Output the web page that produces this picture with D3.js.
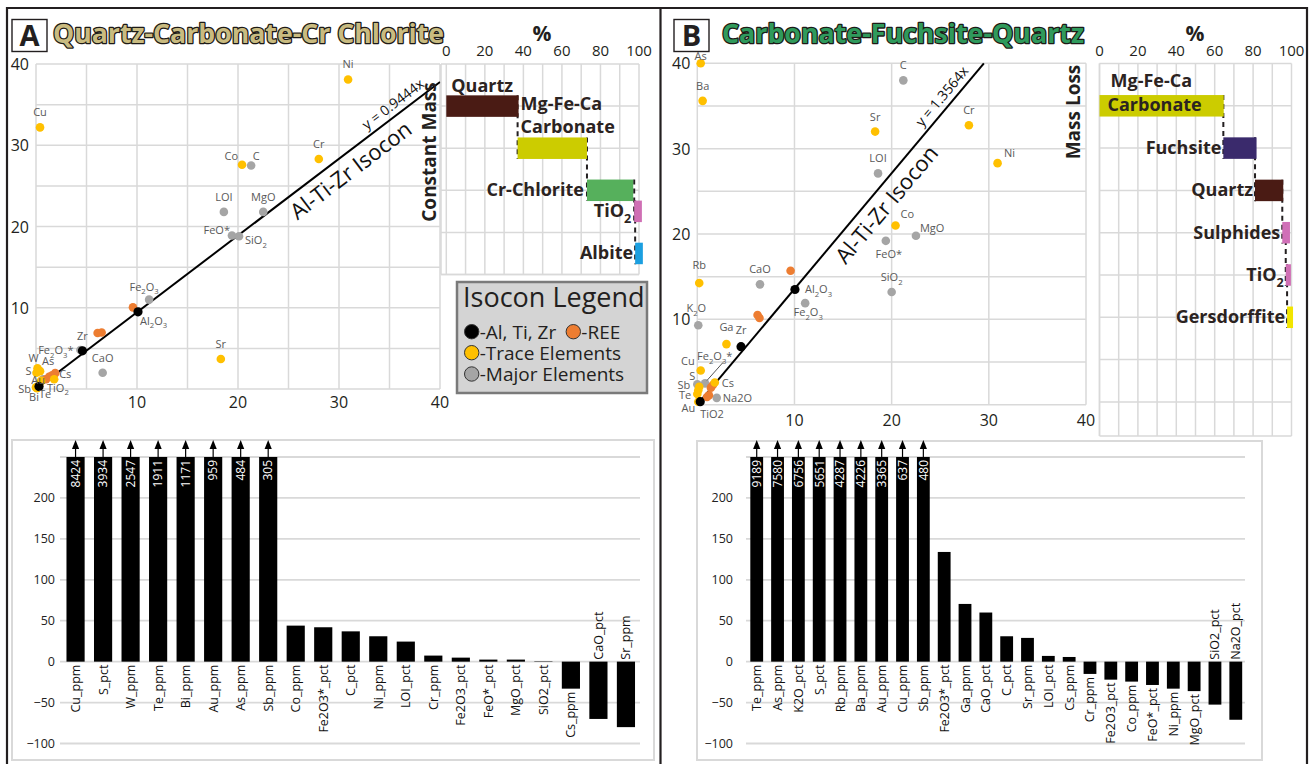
<!DOCTYPE html>
<html>
<head>
<meta charset="utf-8">
<script src="https://cdn.jsdelivr.net/npm/d3@7"></script>
<style>
body { margin: 0; background: #fff; }
text { font-family: "Open Sans", sans-serif; }
</style>
</head>
<body>
<script>
// ---------- data ----------
// isocon A : x = least altered, y = altered ("_" marks a subscript digit)
var isoLabelsA = ["Ni","Cu","Cr","Co","C","LOI","MgO","FeO*","SiO_2","Fe_2O_3","","Al_2O_3","","","Fe_2O_3*","Zr","CaO","Sr","W","As","S","Au","","","","","","Cs","Sb","Bi","Te","TiO_2"];
var isoXA = [30.9,0.4,28.0,20.4,21.3,18.6,22.5,19.4,20.1,11.2,9.6,10.1,6.1,6.5,4.4,4.6,6.6,18.3,0.15,0.4,0.05,0.5,0.7,1.0,1.3,1.6,1.9,1.8,0.0,0.1,0.3,0.3];
var isoYA = [38.1,32.2,28.3,27.6,27.5,21.8,21.8,18.9,18.8,11.0,10.05,9.5,6.9,6.95,4.8,4.7,2.0,3.7,2.55,2.2,2.0,1.0,1.2,1.2,1.5,1.7,1.95,1.2,0.2,0.1,0.4,0.3];
var isoTypeA = ["y","y","y","y","g","g","g","g","g","g","o","k","o","o","g","k","g","y","y","y","y","y","g","o","o","o","o","y","y","y","y","k"];
var slopeA = 0.9444;

// isocon B
var isoLabelsB = ["As","Ba","C","Sr","Cr","Ni","LOI","Co","MgO","FeO*","SiO_2","Rb","CaO","","Al_2O_3","Fe_2O_3","K_2O","","","Ga","Zr","Cu","Fe_2O_3*","Sb","S","","","","","Cs","Te","","Na2O","Au","TiO2"];
var isoXB = [0.35,0.55,21.2,18.3,27.95,30.9,18.6,20.4,22.5,19.4,20.0,0.2,6.45,9.6,10.05,11.1,0.1,6.2,6.4,3.0,4.5,0.35,0.8,0.0,0.2,1.4,1.6,1.2,1.0,1.8,0.0,0.1,2.0,0.1,0.3];
var isoYB = [40.0,35.6,38.0,32.0,32.75,28.3,27.1,21.0,19.8,19.2,13.2,14.25,14.1,15.7,13.5,11.9,9.3,10.5,10.15,7.1,6.8,4.0,2.5,2.4,2.1,2.0,2.3,1.1,0.9,2.6,1.25,1.7,0.8,0.35,0.35];
var isoTypeB = ["y","y","g","y","y","y","g","y","g","g","g","y","g","o","k","g","g","o","o","y","k","y","g","g","y","o","o","o","o","y","y","y","g","y","k"];
var slopeB = 1.3564;

// mass balance bars (percent, start / end)
var massNamesA = ["Quartz","Carbonate","Cr-Chlorite","TiO2","Albite"];
var massStartA = [0, 37, 73, 97.5, 98];
var massEndA = [37.5, 73, 97, 101.5, 102];
var massNamesB = ["Carbonate","Fuchsite","Quartz","Sulphides","TiO2","Gersdorffite"];
var massStartB = [0, 64.5, 81, 95.2, 97, 97.7];
var massEndB = [64.7, 81.8, 95.7, 99.2, 99.7, 100.8];
var massTicks = [0, 20, 40, 60, 80, 100];

// percent change bars
var chgCatA = ["Cu_ppm","S_pct","W_ppm","Te_ppm","Bi_ppm","Au_ppm","As_ppm","Sb_ppm","Co_ppm","Fe2O3*_pct","C_pct","Ni_ppm","LOI_pct","Cr_ppm","Fe2O3_pct","FeO*_pct","MgO_pct","SiO2_pct","Cs_ppm","CaO_pct","Sr_ppm"];
var chgValA = [8424,3934,2547,1911,1171,959,484,305,44,42,37,31,24.5,7.4,4.9,2.5,2.5,0.5,-33,-70,-80];
var chgCatB = ["Te_ppm","As_ppm","K2O_pct","S_pct","Rb_ppm","Ba_ppm","Au_ppm","Cu_ppm","Sb_ppm","Fe2O3*_pct","Ga_ppm","CaO_pct","C_pct","Sr_ppm","LOI_pct","Cs_ppm","Cr_ppm","Fe2O3_pct","Co_ppm","FeO*_pct","Ni_ppm","MgO_pct","SiO2_pct","Na2O_pct"];
var chgValB = [9189,7580,6756,5651,4287,4226,3365,637,480,134,70.5,60,31,29,7,5.7,-15,-22,-24.4,-28.5,-33,-36,-52.5,-71];
var chgTicks = [-100, -50, 0, 50, 100, 150, 200];

// ---------- styles ----------
var ptColor = { k: "#000000", o: "#ed7d31", y: "#ffc000", g: "#a5a5a5" };
var ptOrder = { g: 0, o: 1, y: 2, k: 3 };
var massColor = { "Quartz": "#4a1b14", "Carbonate": "#cccc00", "Cr-Chlorite": "#56b05c", "TiO2": "#cf6fb4",
                  "Albite": "#1b9fe0", "Fuchsite": "#3a2a6c", "Sulphides": "#d06fb7", "Gersdorffite": "#f2e500" };
var GRID = "#d9d9d9";
var INK = "#231f20";

// label offsets [dx, dy, anchor] for isocon points (default sits above)
var placeA = {
  "Co": [-4,-5,"end"], "C": [5,-6,"middle"], "FeO*": [-2,-1,"end"], "SiO_2": [6,8,"start"],
  "Fe_2O_3": [-5,-9,"middle"], "Al_2O_3": [2,13,"start"], "Fe_2O_3*": [-7,4,"end"],
  "W": [-4,-6,"middle"], "As": [8,-6,"middle"], "S": [-5,2,"end"], "Au": [-3,3,"middle"],
  "Cs": [5,-1,"start"], "TiO_2": [8,5,"start"], "Sb": [-5,6,"end"], "Bi": [-3,13,"middle"], "Te": [6,12,"middle"]
};
var placeB = {
  "As": [0,-3,"middle"], "Ni": [12,-6,"middle"], "Co": [5,-7,"start"], "MgO": [4,-4,"start"],
  "FeO*": [3,17,"middle"], "Rb": [0,-14,"middle"], "Al_2O_3": [10,4,"start"], "Fe_2O_3": [3,13,"middle"],
  "K_2O": [-2,-13,"middle"], "Ga": [0,-13,"middle"], "Zr": [0,-13,"middle"], "Cu": [-6,-6,"end"],
  "Fe_2O_3*": [-8,-23,"start"], "Sb": [-7,5,"end"], "S": [-4,-7,"end"], "Cs": [7,4,"start"],
  "Te": [-6,5,"end"], "Na2O": [6,4,"start"], "Au": [-3,10,"end"], "TiO2": [0,16,"start"]
};

var svg = d3.select("body").append("svg")
    .attr("width", 1310)
    .attr("height", 764);

//write text with "_" subscripts as tspans
function richText(sel, str, fs) {
    var parts = str.split(/_(\d)/), shift = 0;
    parts.forEach(function (p, i) {
        if (p === "") return;
        var sub = i % 2 === 1;
        var target = sub ? fs * 0.32 : 0;
        sel.append("tspan")
            .attr("dy", target - shift)
            .style("font-size", (sub ? fs * 0.7 : fs) + "px")
            .text(p);
        shift = target;
    });
}

//panel frames
svg.append("path")
    .attr("d", "M7,764 V8 H1307 V764 M660.5,8 V764")
    .attr("fill", "none")
    .attr("stroke", INK)
    .attr("stroke-width", 2.2);

//panel titles
function drawTitle(letter, title, bx, tx, tw, fill) {
    svg.append("rect").attr("x", bx).attr("y", 19.5).attr("width", 35).attr("height", 32)
        .attr("fill", "#fff").attr("stroke", INK).attr("stroke-width", 1.4);
    svg.append("text").attr("x", bx + 17.5).attr("y", 46).attr("text-anchor", "middle")
        .style("font-size", "29px").style("font-weight", "bold").attr("fill", INK).text(letter);
    svg.append("text").attr("x", tx).attr("y", 43)
        .attr("textLength", tw).attr("lengthAdjust", "spacingAndGlyphs")
        .style("font-size", "27px").style("font-weight", "bold")
        .attr("fill", fill).attr("stroke", "#1d1a17").attr("stroke-width", 2.6)
        .attr("stroke-linejoin", "round").attr("paint-order", "stroke")
        .text(title);
}
drawTitle("A", "Quartz-Carbonate-Cr Chlorite", 12, 53, 391, "#c9bb80");
drawTitle("B", "Carbonate-Fuchsite-Quartz", 674, 722, 362, "#2f9a5c");

//isocon diagram
function drawIsocon(cfg) {
    var g = svg.append("g");
    var x = d3.scaleLinear().domain([0, 40]).range(cfg.xr);
    var y = d3.scaleLinear().domain([0, 40]).range(cfg.yr);

    g.selectAll(".vg").data(d3.range(0, 41, cfg.xstep)).enter().append("line")
        .attr("x1", x).attr("x2", x).attr("y1", y(0)).attr("y2", y(40))
        .attr("stroke", GRID).attr("stroke-width", 1.5);
    g.selectAll(".hg").data(d3.range(0, 41, 5)).enter().append("line")
        .attr("y1", y).attr("y2", y).attr("x1", x(0)).attr("x2", x(40))
        .attr("stroke", GRID).attr("stroke-width", 1.5);

    //tick labels
    g.selectAll(".yl").data([10, 20, 30, 40]).enter().append("text")
        .attr("x", x(0) - 7).attr("y", function (d) { return y(d) + 6; })
        .attr("text-anchor", "end").style("font-size", "16px").attr("fill", INK)
        .text(function (d) { return d; });
    g.selectAll(".xl").data([10, 20, 30, 40]).enter().append("text")
        .attr("x", x).attr("y", y(0) + cfg.xlabDy)
        .attr("text-anchor", "middle").style("font-size", "16px").attr("fill", INK)
        .text(function (d) { return d; });

    //isocon line
    var xe = Math.min(40, 40 / cfg.slope);
    g.append("line")
        .attr("x1", x(0)).attr("y1", y(0)).attr("x2", x(xe)).attr("y2", y(xe * cfg.slope))
        .attr("stroke", "#000").attr("stroke-width", 2);
    var ang = Math.atan2(y(xe * cfg.slope) - y(0), x(xe) - x(0)) * 180 / Math.PI;
    function along(f) {
        return "translate(" + x(f * xe) + "," + y(f * xe * cfg.slope) + ") rotate(" + ang + ")";
    }
    g.append("text").attr("transform", along(cfg.isoFrac)).attr("dy", 24)
        .attr("text-anchor", "middle").style("font-size", "22px").attr("fill", "#111")
        .text("Al-Ti-Zr Isocon");
    g.append("text").attr("transform", along(cfg.eqFrac)).attr("dy", -6)
        .attr("text-anchor", "middle").style("font-size", "14px").attr("fill", "#111")
        .text("y = " + cfg.slope + "x");

    //points
    var pts = cfg.labels.map(function (l, i) {
        return { label: l, x: cfg.xs[i], y: cfg.ys[i], t: cfg.types[i], i: i };
    });
    var drawn = pts.slice().sort(function (a, b) { return ptOrder[a.t] - ptOrder[b.t] || a.i - b.i; });
    g.selectAll(".pt").data(drawn).enter().append("circle")
        .attr("cx", function (d) { return x(d.x); })
        .attr("cy", function (d) { return y(d.y); })
        .attr("r", function (d) { return d.t === "k" ? 4.6 : 4.3; })
        .attr("fill", function (d) { return ptColor[d.t]; });

    //leader lines
    (cfg.leaders || []).forEach(function (name) {
        var p = pts.filter(function (d) { return d.label === name; })[0];
        g.append("line")
            .attr("x1", x(p.x) + 18).attr("y1", y(p.y) - 21)
            .attr("x2", x(p.x) + 2).attr("y2", y(p.y) - 3)
            .attr("stroke", "#404040").attr("stroke-width", 0.9);
    });

    //point labels
    pts.filter(function (d) { return d.label !== ""; }).forEach(function (d) {
        var pl = cfg.place[d.label] || [0, -11, "middle"];
        var t = g.append("text")
            .attr("x", x(d.x) + pl[0]).attr("y", y(d.y) + pl[1])
            .attr("text-anchor", pl[2]).attr("fill", "#595959");
        richText(t, d.label, 11);
    });
}

drawIsocon({ labels: isoLabelsA, xs: isoXA, ys: isoYA, types: isoTypeA, slope: slopeA,
    xr: [36, 440], yr: [389, 64], xstep: 5, xlabDy: 19, place: placeA, isoFrac: 0.755, eqFrac: 0.9 });
drawIsocon({ labels: isoLabelsB, xs: isoXB, ys: isoYB, types: isoTypeB, slope: slopeB,
    xr: [697.3, 1086], yr: [404.7, 63.3], xstep: 10, xlabDy: 21, place: placeB, isoFrac: 0.617, eqFrac: 0.883,
    leaders: ["Fe_2O_3*"] });

//mass balance waterfall
function drawMass(cfg) {
    var g = svg.append("g");
    var x = d3.scaleLinear().domain([0, 100]).range(cfg.xr);
    var row = function (k) { return cfg.top + k * cfg.rowH; };
    var nRows = Math.floor((cfg.bottom - cfg.top) / cfg.rowH + 0.01);

    g.selectAll(".hg").data(d3.range(0, nRows + 1)).enter().append("line")
        .attr("x1", cfg.left).attr("x2", x(100)).attr("y1", row).attr("y2", row)
        .attr("stroke", GRID).attr("stroke-width", 1.5);
    g.append("line").attr("x1", cfg.left).attr("x2", x(100)).attr("y1", cfg.bottom).attr("y2", cfg.bottom)
        .attr("stroke", GRID).attr("stroke-width", 1.5);
    g.selectAll(".vg").data(d3.range(0, 101, 10)).enter().append("line")
        .attr("x1", x).attr("x2", x).attr("y1", cfg.top).attr("y2", cfg.bottom)
        .attr("stroke", GRID).attr("stroke-width", 1.5);
    g.append("line").attr("x1", cfg.left).attr("x2", cfg.left).attr("y1", cfg.top).attr("y2", cfg.bottom)
        .attr("stroke", GRID).attr("stroke-width", 1.5);

    //top axis
    g.selectAll(".tl").data(massTicks).enter().append("text")
        .attr("x", x).attr("y", 56).attr("text-anchor", "middle")
        .style("font-size", "15px").attr("fill", INK).text(function (d) { return d; });
    g.append("text").attr("x", cfg.pctX).attr("y", 41).attr("text-anchor", "middle")
        .style("font-size", "21px").style("font-weight", "bold").attr("fill", INK).text("%");

    //side caption
    g.append("text")
        .attr("transform", "translate(" + cfg.capX + "," + cfg.capY + ") rotate(-90)")
        .attr("text-anchor", "middle").style("font-size", "19px").style("font-weight", "bold")
        .attr("fill", INK).text(cfg.caption);

    var bh = 21.5;
    var cy = cfg.pos.map(function (p) { return row(p); });

    //dashed connectors
    for (var i = 0; i < cfg.names.length - 1; i++) {
        g.append("line")
            .attr("x1", x(cfg.start[i + 1])).attr("x2", x(cfg.start[i + 1]))
            .attr("y1", cy[i] - bh / 2).attr("y2", cy[i + 1] + bh / 2)
            .attr("stroke", "#231f20").attr("stroke-width", 2).attr("stroke-dasharray", "5,4");
    }

    g.selectAll(".bar").data(cfg.names).enter().append("rect")
        .attr("x", function (d, i) { return x(cfg.start[i]); })
        .attr("width", function (d, i) { return x(cfg.end[i]) - x(cfg.start[i]); })
        .attr("y", function (d, i) { return cy[i] - bh / 2; })
        .attr("height", bh)
        .attr("fill", function (d) { return massColor[d]; });

    //bar labels
    cfg.names.forEach(function (d, i) {
        var lab = cfg.labels[i];
        lab.lines.forEach(function (line, j) {
            var t = g.append("text")
                .attr("x", x(cfg.start[i]) + lab.dx[j]).attr("y", cy[i] + lab.dy[j])
                .attr("text-anchor", lab.anchor).style("font-weight", "bold")
                .attr("fill", "#2b2321");
            richText(t, line, 18);
        });
    });
}

drawMass({ names: massNamesA, start: massStartA, end: massEndA, pos: [1, 2, 3, 3.5, 4.5],
    xr: [446.3, 639], left: 441, top: 64, rowH: 42.1, bottom: 274.5, pctX: 542, caption: "Constant Mass",
    capX: 436, capY: 152,
    labels: [
        { lines: ["Quartz"], dx: [5], dy: [-14], anchor: "start" },
        { lines: ["Mg-Fe-Ca", "Carbonate"], dx: [3, 3], dy: [-38, -15], anchor: "start" },
        { lines: ["Cr-Chlorite"], dx: [-3], dy: [6], anchor: "end" },
        { lines: ["TiO_2"], dx: [-3], dy: [6], anchor: "end" },
        { lines: ["Albite"], dx: [-2], dy: [6], anchor: "end" }
    ] });
drawMass({ names: massNamesB, start: massStartB, end: massEndB, pos: [1, 2, 3, 4, 5, 6],
    xr: [1099.5, 1291.5], left: 1099.5, top: 63.5, rowH: 42.3, bottom: 436, pctX: 1195, caption: "Mass Loss",
    capX: 1080, capY: 112,
    labels: [
        { lines: ["Mg-Fe-Ca", "Carbonate"], dx: [11, 8], dy: [-19, 5], anchor: "start" },
        { lines: ["Fuchsite"], dx: [-2], dy: [6], anchor: "end" },
        { lines: ["Quartz"], dx: [-2], dy: [6], anchor: "end" },
        { lines: ["Sulphides"], dx: [-2], dy: [6], anchor: "end" },
        { lines: ["TiO_2"], dx: [-2], dy: [6], anchor: "end" },
        { lines: ["Gersdorffite"], dx: [-2], dy: [6], anchor: "end" }
    ] });

//legend (panel A)
var leg = svg.append("g");
leg.append("rect").attr("x", 457).attr("y", 282).attr("width", 190).attr("height", 111)
    .attr("fill", "#d4d4d4").attr("stroke", "#7a7a7a").attr("stroke-width", 2.5);
leg.append("text").attr("x", 463).attr("y", 307).style("font-size", "27px").attr("fill", INK).text("Isocon Legend");
var legItems = [
    { t: "k", text: "-Al, Ti, Zr", cx: 471.7, cy: 331.7 },
    { t: "o", text: "-REE", cx: 573.3, cy: 331.7 },
    { t: "y", text: "-Trace Elements", cx: 471.7, cy: 352.7 },
    { t: "g", text: "-Major Elements", cx: 471.7, cy: 374 }
];
legItems.forEach(function (d) {
    leg.append("circle").attr("cx", d.cx).attr("cy", d.cy).attr("r", 7.2)
        .attr("fill", ptColor[d.t]).attr("stroke", "#333").attr("stroke-width", 1);
    leg.append("text").attr("x", d.cx + 8).attr("y", d.cy + 7)
        .style("font-size", "19px").attr("fill", INK).text(d.text);
});

//percent change bar chart
function drawChange(cfg) {
    var g = svg.append("g");
    var x = d3.scaleBand().domain(cfg.cats).range(cfg.xr).paddingInner(cfg.pad).paddingOuter(cfg.pad / 2);
    var y = d3.scaleLinear().domain([-100, 250]).range([743.5, 457]);
    var top = 250;

    g.append("rect").attr("x", cfg.box[0]).attr("y", cfg.box[1])
        .attr("width", cfg.box[2] - cfg.box[0]).attr("height", cfg.box[3] - cfg.box[1])
        .attr("fill", "none").attr("stroke", GRID).attr("stroke-width", 2);

    g.selectAll(".hg").data(d3.range(-100, 251, 50)).enter().append("line")
        .attr("x1", cfg.grid[0]).attr("x2", cfg.grid[1]).attr("y1", y).attr("y2", y)
        .attr("stroke", GRID).attr("stroke-width", 1.8);

    var ax = g.append("g").attr("transform", "translate(" + cfg.labX + ",0)")
        .call(d3.axisLeft(y).tickValues(chgTicks).tickSize(0).tickPadding(0));
    ax.select(".domain").remove();
    ax.selectAll("text").style("font-size", "12.5px").style("font-family", "'Open Sans', sans-serif").attr("fill", "#222");

    var data = cfg.cats.map(function (c, i) { return { c: c, v: cfg.vals[i] }; });
    var bw = x.bandwidth();

    g.selectAll(".bar").data(data).enter().append("rect")
        .attr("x", function (d) { return x(d.c); })
        .attr("width", bw)
        .attr("y", function (d) { return y(Math.min(top, Math.max(d.v, 0))); })
        .attr("height", function (d) { return Math.abs(y(Math.min(top, d.v)) - y(0)); })
        .attr("fill", "#000");

    //arrows and values for clipped bars
    var over = data.filter(function (d) { return d.v > top; });
    over.forEach(function (d) {
        var cx = x(d.c) + bw / 2;
        g.append("line").attr("x1", cx).attr("x2", cx).attr("y1", y(top)).attr("y2", 446)
            .attr("stroke", "#000").attr("stroke-width", 1.2);
        g.append("path").attr("d", "M" + cx + ",440 L" + (cx - 3.6) + ",449 L" + (cx + 3.6) + ",449 Z")
            .attr("fill", "#000");
        g.append("text")
            .attr("transform", "translate(" + (cx + 4.3) + "," + (y(top) + 3) + ") rotate(-90)")
            .attr("text-anchor", "end").style("font-size", "12px").attr("fill", "#fff")
            .text(d.v);
    });

    //category labels
    data.forEach(function (d) {
        var cx = x(d.c) + bw / 2 + 4.5;
        var ty, anchor;
        if (d.v < -50) { ty = y(0) - 2; anchor = "start"; }
        else if (d.v < 0) { ty = y(d.v) + 3; anchor = "end"; }
        else { ty = y(0) + 3; anchor = "end"; }
        g.append("text")
            .attr("transform", "translate(" + cx + "," + ty + ") rotate(-90)")
            .attr("text-anchor", anchor).style("font-size", "12.5px").attr("fill", "#111")
            .text(d.c);
    });
}

drawChange({ cats: chgCatA, vals: chgValA, xr: [61.8, 639.7], pad: 0.34,
    box: [12, 440, 654, 760], grid: [60, 640], labX: 55 });
drawChange({ cats: chgCatB, vals: chgValB, xr: [746.3, 1246.2], pad: 0.385,
    box: [697, 441, 1262, 760], grid: [746, 1245], labX: 733 });
</script>
</body>
</html>
